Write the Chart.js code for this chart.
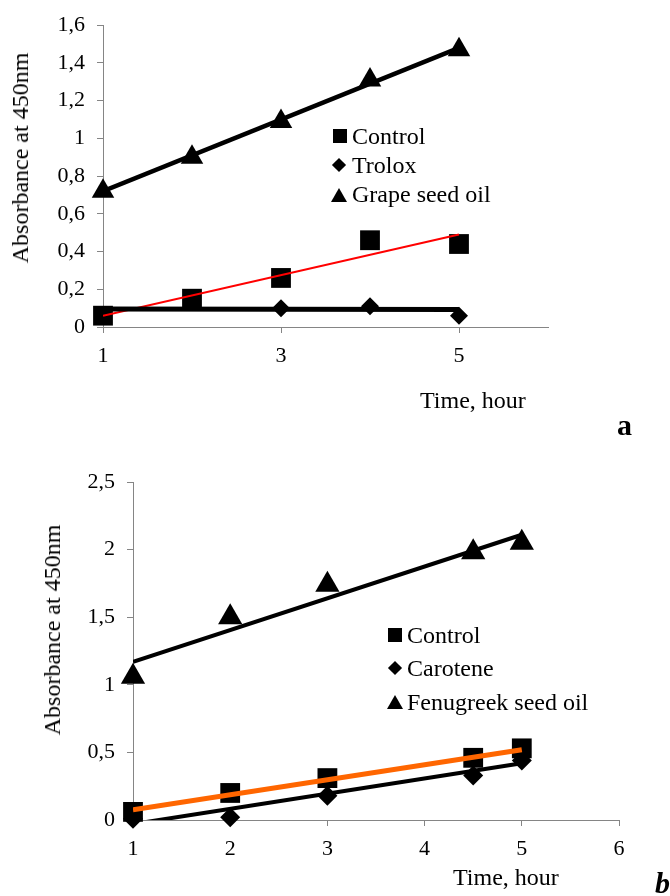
<!DOCTYPE html>
<html>
<head>
<meta charset="utf-8">
<script src="https://cdn.jsdelivr.net/npm/chart.js@4.4.1/dist/chart.umd.min.js"></script>
<style>
html,body{margin:0;padding:0;background:#fff;}
body{width:670px;height:896px;position:relative;overflow:hidden;font-family:"Liberation Serif","Times New Roman",serif;color:#000;}
.wrap{position:absolute;left:0;width:670px;}
.t{position:absolute;white-space:nowrap;font-size:24px;line-height:24px;}
.yt{position:absolute;white-space:nowrap;font-size:24px;line-height:24px;transform:translate(-50%,-50%) rotate(-90deg);}
.mk{position:absolute;background:#000;}
.sq{width:14px;height:14px;}
.dm{width:10px;height:10px;transform:rotate(45deg);}
.tr{width:0;height:0;background:transparent;border-left:8px solid transparent;border-right:8px solid transparent;border-bottom:14px solid #000;}
.lbl{position:absolute;font-weight:bold;font-size:30px;line-height:30px;}
</style>
</head>
<body>
<div class="wrap" style="top:0;height:440px;"><canvas id="ca" width="670" height="440"></canvas></div>
<div class="wrap" style="top:440px;height:456px;"><canvas id="cb" width="670" height="456"></canvas></div>

<div class="yt" style="left:20px;top:158px;">Absorbance at 450nm</div>
<div class="yt" style="left:52px;top:630px;">Absorbance at 450nm</div>

<!-- legend a -->
<div class="mk sq" style="left:333px;top:129px;"></div>
<div class="t" style="left:352px;top:124px;">Control</div>
<div class="mk dm" style="left:334px;top:160px;"></div>
<div class="t" style="left:352px;top:153px;">Trolox</div>
<div class="mk tr" style="left:331px;top:188px;"></div>
<div class="t" style="left:352px;top:182px;">Grape seed oil</div>

<!-- legend b -->
<div class="mk sq" style="left:388px;top:628px;"></div>
<div class="t" style="left:407px;top:623px;">Control</div>
<div class="mk dm" style="left:390px;top:663px;"></div>
<div class="t" style="left:407px;top:656px;">Carotene</div>
<div class="mk tr" style="left:387px;top:695px;"></div>
<div class="t" style="left:407px;top:690px;">Fenugreek seed oil</div>

<div class="t" style="left:420px;top:388px;">Time, hour</div>
<div class="t" style="left:453px;top:865px;">Time, hour</div>
<div class="lbl" style="left:617px;top:410px;">a</div>
<div class="lbl" style="left:655px;top:868px;font-style:italic;">b</div>

<script>
// ---------- chart a ----------
const xTicksA = [1, 3, 5];
const yTicksA = [0, 0.2, 0.4, 0.6, 0.8, 1, 1.2, 1.4, 1.6];
const yTickLabelsA = ['0', '0,2', '0,4', '0,6', '0,8', '1', '1,2', '1,4', '1,6'];
const hoursA = [1, 2, 3, 4, 5];
const controlA = [0.06, 0.15, 0.26, 0.46, 0.44];
const troloxA = [0.06, 0.14, 0.10, 0.11, 0.06];
const grapeA = [0.72, 0.90, 1.09, 1.31, 1.47];
const trendHoursA = [1, 5];
const controlTrendA = [0.06, 0.49];
const troloxTrendA = [0.096, 0.093];
const grapeTrendA = [0.72, 1.48];

// ---------- chart b ----------
const xTicksB = [1, 2, 3, 4, 5, 6];
const yTicksB = [0, 0.5, 1, 1.5, 2, 2.5];
const yTickLabelsB = ['0', '0,5', '1', '1,5', '2', '2,5'];
const hoursB = [1, 2, 3, 4.5, 5];
const controlB = [0.06, 0.20, 0.31, 0.46, 0.53];
const caroteneB = [0.01, 0.02, 0.18, 0.33, 0.44];
const fenugreekB = [1.06, 1.50, 1.74, 1.98, 2.05];
const trendHoursB = [1, 5];
const controlTrendB = [0.075, 0.52];
const caroteneTrendB = [-0.03, 0.42];
const fenugreekTrendB = [1.17, 2.11];

const AXIS = '#858585';
const TICKFONT = {family: "'Liberation Serif', 'Times New Roman', serif", size: 22};

function pts(xs, ys) { return xs.map((x, i) => ({x: x, y: ys[i]})); }

function markers(xs, ys, style, r) {
  return {data: pts(xs, ys), showLine: false, pointStyle: style, pointRadius: r, pointHoverRadius: r,
    backgroundColor: '#000', borderColor: '#000', pointBorderWidth: 0, clip: false, order: 2};
}
function trend(xs, ys, color, w) {
  return {data: pts(xs, ys), showLine: true, pointRadius: 0, pointHoverRadius: 0,
    borderColor: color, borderWidth: w, backgroundColor: color, fill: false, order: 1};
}

function makeChart(id, datasets, o) {
  return new Chart(document.getElementById(id), {
    type: 'scatter',
    data: {datasets: datasets},
    options: {
      responsive: false, animation: false, devicePixelRatio: 1,
      layout: {padding: o.padding},
      plugins: {legend: {display: false}, tooltip: {enabled: false}},
      scales: {
        x: {type: 'linear', min: o.xmin, max: o.xmax,
          afterBuildTicks: s => { s.ticks = o.xTicks.map(v => ({value: v})); },
          afterFit: s => { s.height = o.xh; },
          ticks: {font: TICKFONT, color: '#000', padding: 10, autoSkip: false, maxRotation: 0,
            callback: v => String(v)},
          grid: {drawOnChartArea: false, drawTicks: true, tickLength: 6, color: AXIS, lineWidth: 1},
          border: {display: true, color: AXIS, width: 1}
        },
        y: {type: 'linear', min: o.ymin, max: o.ymax,
          afterBuildTicks: s => { s.ticks = o.yTicks.map(v => ({value: v})); },
          afterFit: s => { s.width = o.yw; },
          ticks: {font: TICKFONT, color: '#000', padding: 12, autoSkip: false,
            callback: v => o.yLabels[o.yTicks.indexOf(v)]},
          grid: {drawOnChartArea: false, drawTicks: true, tickLength: 6, color: AXIS, lineWidth: 1},
          border: {display: true, color: AXIS, width: 1}
        }
      }
    }
  });
}

makeChart('ca', [
  markers(hoursA, grapeA, 'triangle', 13),
  markers(hoursA, troloxA, 'rectRot', 9),
  markers(hoursA, controlA, 'rect', 14),
  trend(trendHoursA, grapeTrendA, '#000', 4.5),
  trend(trendHoursA, troloxTrendA, '#000', 5),
  trend(trendHoursA, controlTrendA, '#ff0000', 2)
], {padding: {top: 22, right: 122, bottom: 0, left: 0}, xmin: 1, xmax: 6, ymin: 0, ymax: 1.6,
    xTicks: xTicksA, yTicks: yTicksA, yLabels: yTickLabelsA, xh: 113, yw: 103});

makeChart('cb', [
  markers(hoursB, fenugreekB, 'triangle', 14),
  markers(hoursB, caroteneB, 'rectRot', 10),
  markers(hoursB, controlB, 'rect', 14),
  trend(trendHoursB, fenugreekTrendB, '#000', 4),
  trend(trendHoursB, caroteneTrendB, '#000', 4),
  trend(trendHoursB, controlTrendB, '#ff6600', 5)
], {padding: {top: 42, right: 51, bottom: 0, left: 0}, xmin: 1, xmax: 6, ymin: 0, ymax: 2.5,
    xTicks: xTicksB, yTicks: yTicksB, yLabels: yTickLabelsB, xh: 76, yw: 133});
</script>
</body>
</html>
